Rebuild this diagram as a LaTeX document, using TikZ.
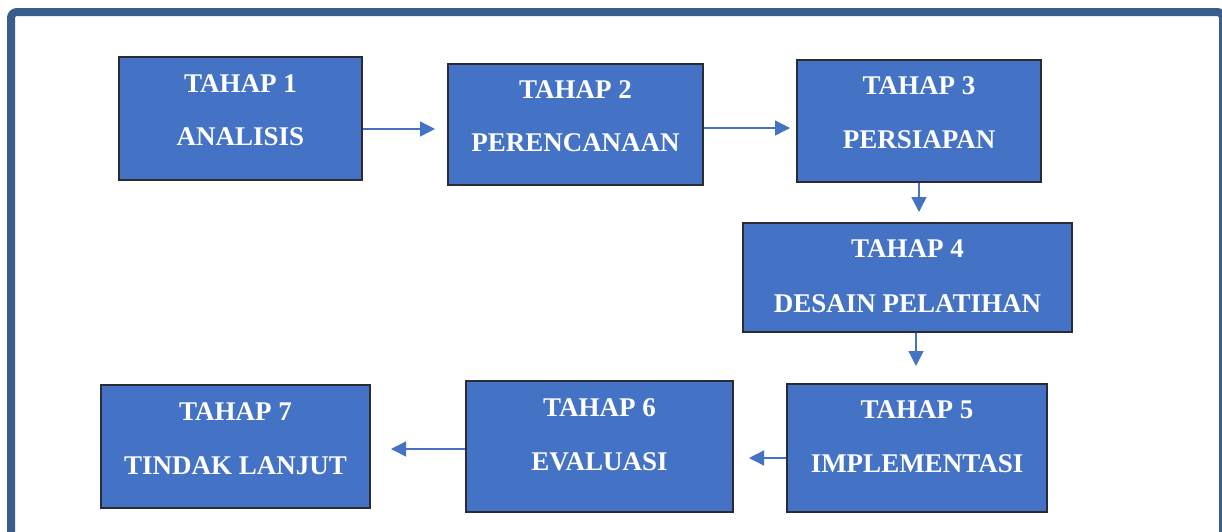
\documentclass[tikz,border=0pt]{standalone}
\usepackage{fontspec}
\setmainfont{Liberation Serif}
\usetikzlibrary{arrows.meta}
\definecolor{frameblue}{HTML}{3A5E8C}
\definecolor{boxblue}{HTML}{4472C4}
\definecolor{boxedge}{HTML}{2B2B35}
\tikzset{
  stagebox/.style={draw=boxedge, line width=1.3pt, fill=boxblue, inner sep=0pt},
  stagetxt/.style={text=white, font=\bfseries\fontsize{27}{27}\selectfont, inner sep=0pt, anchor=base},
  flow/.style={draw=boxblue, line width=1.4pt, -{Triangle[length=15pt,width=15pt]}}
}
\begin{document}
\begin{tikzpicture}[x=1pt,y=-1pt]
\useasboundingbox (0,0) rectangle (1222,531);
\clip (0,0) rectangle (1222,531);
\fill[white] (0,0) rectangle (1222,531);
\draw[frameblue, line width=8pt, rounded corners=6pt] (11,12) rectangle (1223,560);

% boxes
\node[stagebox, minimum width=243pt, minimum height=123pt] (b1) at (240.5,118.5) {};
\node[stagebox, minimum width=255pt, minimum height=121pt] (b2) at (575.5,124.5) {};
\node[stagebox, minimum width=244pt, minimum height=122pt] (b3) at (919,121) {};
\node[stagebox, minimum width=329pt, minimum height=109pt] (b4) at (907.5,277.5) {};
\node[stagebox, minimum width=260pt, minimum height=128pt] (b5) at (917,448) {};
\node[stagebox, minimum width=267pt, minimum height=131pt] (b6) at (599.5,446.5) {};
\node[stagebox, minimum width=269pt, minimum height=123pt] (b7) at (235.5,446.5) {};

% texts
\node[stagetxt] (t1a) at (240.5,92) {TAHAP 1};
\node[stagetxt] (t1b) at (240.5,145) {ANALISIS};
\node[stagetxt] (t2a) at (575.5,98) {TAHAP 2};
\node[stagetxt] (t2b) at (575.5,151) {PERENCANAAN};
\node[stagetxt] (t3a) at (919,94) {TAHAP 3};
\node[stagetxt] (t3b) at (919,148) {PERSIAPAN};
\node[stagetxt] (t4a) at (907.5,257) {TAHAP 4};
\node[stagetxt] (t4b) at (907.5,312) {DESAIN PELATIHAN};
\node[stagetxt] (t5a) at (917,418) {TAHAP 5};
\node[stagetxt] (t5b) at (917,472) {IMPLEMENTASI};
\node[stagetxt] (t6a) at (599.5,416) {TAHAP 6};
\node[stagetxt] (t6b) at (599.5,470) {EVALUASI};
\node[stagetxt] (t7a) at (235.5,420) {TAHAP 7};
\node[stagetxt] (t7b) at (235.5,474) {TINDAK LANJUT};

% arrow end points
\coordinate (e12) at (435,129);
\coordinate (e23) at (790,128);
\coordinate (e34) at (919,212);
\coordinate (e45) at (916,366);
\coordinate (e56) at (749,458);
\coordinate (e67) at (391,449);

\draw[flow] (b1.east |- e12) -- (e12);
\draw[flow] (b2.east |- e23) -- (e23);
\draw[flow] (b3.south -| e34) -- (e34);
\draw[flow] (b4.south -| e45) -- (e45);
\draw[flow] (b5.west |- e56) -- (e56);
\draw[flow] (b6.west |- e67) -- (e67);
\end{tikzpicture}
\end{document}
